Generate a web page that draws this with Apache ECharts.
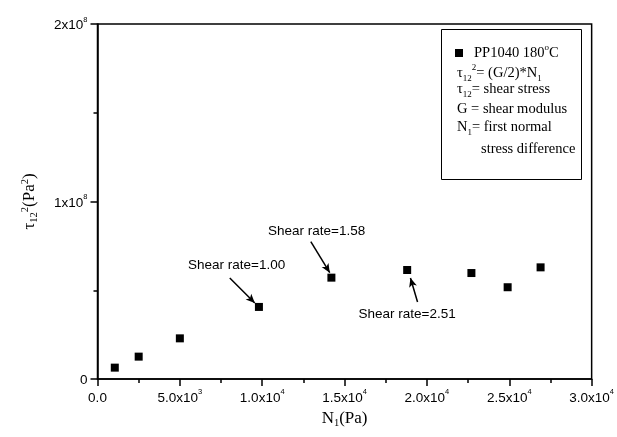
<!DOCTYPE html>
<html>
<head>
<meta charset="utf-8">
<script src="https://cdn.jsdelivr.net/npm/echarts@6/dist/echarts.min.js"></script>
<style>
    html, body { margin: 0; padding: 0; background: #fff; }
    #chartBox { width: 617px; height: 437px; }
</style>
</head>
<body>
<div id="chartBox"></div>
<script>
// N1 (Pa) and tau12^2 (Pa^2)
var n1 = [1050, 2500, 5000, 9800, 14200, 18800, 22700, 24900, 26900];
var tau2 = [6.4e6, 12.6e6, 22.9e6, 40.6e6, 57.1e6, 61.4e6, 59.7e6, 51.7e6, 62.9e6];

// tick labels: mantissa part and exponent part
var xTickBase = ['0.0', '5.0x10', '1.0x10', '1.5x10', '2.0x10', '2.5x10', '3.0x10'];
var xTickExp = ['', '3', '4', '4', '4', '4', '4'];
var yTickBase = ['0', '1x10', '2x10'];
var yTickExp = ['', '8', '8'];

// arrows and notes, in data units: [fromX, fromY, toX, toY]
var noteText = ['Shear rate=1.00', 'Shear rate=1.58', 'Shear rate=2.51'];
var noteAt = [[8450, 64.2e6], [13300, 83.4e6], [18800, 36.5e6]];
var arrows = [
    [8030, 56.9e6, 9550, 42.8e6],
    [12950, 77.4e6, 14100, 59.9e6],
    [19430, 43.4e6, 19000, 56.9e6]
];

var SANS = 'Liberation Sans, Arial, sans-serif';
var SERIF = 'Liberation Serif, Times New Roman, serif';

function tickRich(size) {
    return {
        b: {fontFamily: SANS, fontSize: size, color: '#000', lineHeight: 17, verticalAlign: 'bottom'},
        s: {fontFamily: SANS, fontSize: 7.5, color: '#000', lineHeight: 17, verticalAlign: 'top'}
    };
}

function mathRich(size) {
    return {
        t: {fontFamily: SERIF, fontSize: size, color: '#000', lineHeight: 20},
        sub: {fontFamily: SERIF, fontSize: size * 0.62, color: '#000', lineHeight: 20, verticalAlign: 'bottom'},
        sup: {fontFamily: SERIF, fontSize: size * 0.62, color: '#000', lineHeight: 20, verticalAlign: 'top'}
    };
}

function ShearChart() {
    var myChart = echarts.init(document.getElementById('chartBox'));

    var pts = [];
    for (var i = 0; i < n1.length; i++) {
        pts.push([n1[i], tau2[i]]);
    }
    var lines = arrows.map(function (a) {
        return [{coord: [a[0], a[1]]}, {coord: [a[2], a[3]]}];
    });
    var notes = noteText.map(function (t, i) {
        return {coord: noteAt[i], value: t};
    });

    var option = {
        animation: false,
        grid: {
            left: 97.5, right: 24.7, top: 24, bottom: 58,
            show: true, borderColor: '#000', borderWidth: 1.5
        },
        xAxis: {
            type: 'value',
            min: 0, max: 30000, interval: 5000,
            axisLine: {lineStyle: {color: '#000', width: 1.5}},
            axisTick: {inside: false, length: 7, lineStyle: {color: '#000', width: 1.5}},
            minorTick: {show: true, splitNumber: 2, length: 4, lineStyle: {color: '#000', width: 1.5}},
            splitLine: {show: false},
            axisLabel: {
                margin: 9,
                formatter: function (v) {
                    var k = Math.round(v / 5000);
                    return '{b|' + xTickBase[k] + '}' + (xTickExp[k] ? '{s|' + xTickExp[k] + '}' : '');
                },
                rich: tickRich(13.5)
            },
            name: '{t|N}{sub|1}{t|(Pa)}',
            nameLocation: 'middle',
            nameGap: 28,
            nameTextStyle: {rich: mathRich(17)}
        },
        yAxis: {
            type: 'value',
            min: 0, max: 2e8, interval: 1e8,
            axisLine: {lineStyle: {color: '#000', width: 1.5}},
            axisTick: {inside: false, length: 7, lineStyle: {color: '#000', width: 1.5}},
            minorTick: {show: true, splitNumber: 2, length: 4, lineStyle: {color: '#000', width: 1.5}},
            splitLine: {show: false},
            axisLabel: {
                margin: 10,
                formatter: function (v) {
                    var k = Math.round(v / 1e8);
                    return '{b|' + yTickBase[k] + '}' + (yTickExp[k] ? '{s|' + yTickExp[k] + '}' : '');
                },
                rich: tickRich(13.5)
            },
            name: '{t|τ}{sub|12}{sup|2}{t|(Pa}{sup|2}{t|)}',
            nameLocation: 'middle',
            nameRotate: 90,
            nameGap: 58,
            nameTextStyle: {rich: mathRich(17)}
        },
        series: [
            {
                name: 'PP1040 180°C',
                type: 'scatter',
                symbol: 'rect',
                symbolSize: 8,
                itemStyle: {color: '#000', opacity: 1},
                data: pts,
                markLine: {
                    silent: true,
                    symbol: ['none', 'arrow'],
                    symbolSize: [6, 9],
                    label: {show: false},
                    lineStyle: {color: '#000', width: 1.5, type: 'solid', opacity: 1},
                    data: lines
                },
                markPoint: {
                    silent: true,
                    symbol: 'rect',
                    symbolSize: 0,
                    label: {
                        show: true,
                        position: 'inside',
                        formatter: function (p) { return p.value; },
                        fontFamily: SANS, fontSize: 13.5, color: '#000'
                    },
                    data: notes
                }
            }
        ],
        graphic: [
            {
                type: 'rect',
                shape: {x: 441.5, y: 29.5, width: 140, height: 150},
                style: {fill: '#fff', stroke: '#000', lineWidth: 1}
            },
            {
                type: 'rect',
                shape: {x: 455, y: 49, width: 8, height: 8},
                style: {fill: '#000'}
            },
            {
                type: 'text', left: 474, top: 43,
                style: {text: '{t|PP1040 180}{sup|o}{t|C}', rich: mathRich(14.5)}
            },
            {
                type: 'text', left: 457, top: 63,
                style: {text: '{t|τ}{sub|12}{sup|2}{t|= (G/2)*N}{sub|1}', rich: mathRich(14.5)}
            },
            {
                type: 'text', left: 457, top: 82,
                style: {text: '{t|τ}{sub|12}{t|= shear stress}', rich: mathRich(14.5)}
            },
            {
                type: 'text', left: 457, top: 102,
                style: {text: '{t|G = shear modulus}', rich: mathRich(14.5)}
            },
            {
                type: 'text', left: 457, top: 120,
                style: {text: '{t|N}{sub|1}{t|= first normal}', rich: mathRich(14.5)}
            },
            {
                type: 'text', left: 481, top: 142,
                style: {text: '{t|stress difference}', rich: mathRich(14.5)}
            }
        ]
    };
    myChart.setOption(option);
}

ShearChart();
</script>
</body>
</html>
